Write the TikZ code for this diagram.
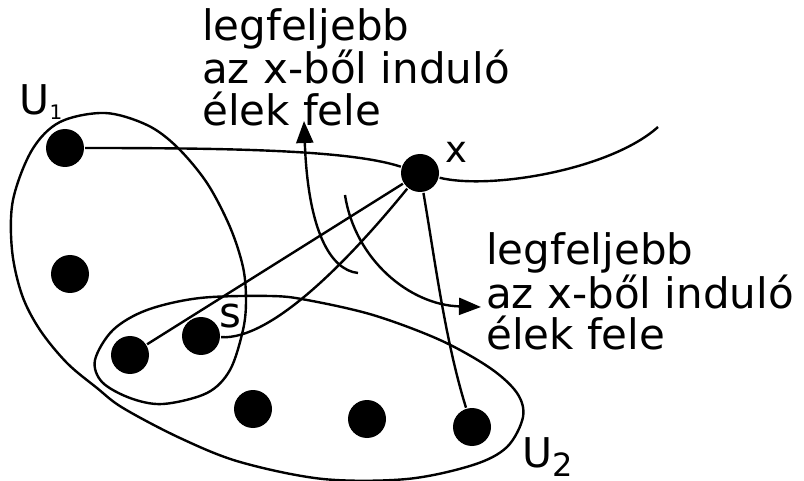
\documentclass[tikz,border=0pt]{standalone}
\usepackage{fontspec}
\setmainfont{DejaVu Sans}
\usetikzlibrary{arrows.meta}

\begin{document}
\begin{tikzpicture}[x=1pt, y=-1pt, line width=2.4pt,
  dot/.style={circle, fill=black, inner sep=0pt, minimum size=38pt},
  lbl/.style={inner sep=0pt, anchor=base west},
  note/.style={lbl, align=left, font=\fontsize{42}{42}\selectfont},
  tip/.style={-{Triangle[length=22pt,width=17pt]}}]
\useasboundingbox (0,0) rectangle (804,481);

% vertices
\node[dot] (x)  at (420,173) {};
\node[dot] (a1) at (65,148) {};
\node[dot] (a2) at (70,274) {};
\node[dot] (c)  at (130,355) {};
\node[dot] (s)  at (201,336) {};
\node[dot] (b1) at (253,409) {};
\node[dot] (b2) at (367,419) {};
\node[dot] (b3) at (472,427) {};

% the two sets U1 and U2 as one closed curve with an inner curl
\draw plot[smooth cycle, tension=0.55] coordinates {
  (270,296) (200,298) (147,310) (113,330) (95,360) (102,382) (130,398)
  (163,404) (207,393) (230,370) (243,330) (246,300) (243,267) (230,227)
  (207,183) (177,147) (147,125) (105,113) (60,122) (32,150) (13,200)
  (12,250) (22,295) (40,330) (67,363) (97,388) (123,408) (180,438)
  (240,462) (323,479) (407,479) (473,465) (507,447) (523,417) (517,393)
  (490,368) (440,340) (373,315) (307,300)};

% edges
\coordinate (tail) at (658,127);
\draw (a1) .. controls (230,148) and (350,150) .. (x)
           .. controls (490,190) and (610,170) .. (tail);
\draw (x) -- (c);
\draw (s) .. controls (270,340) and (345,265) .. (x);
\draw (x) .. controls (435,260) and (445,340) .. (b3);

% arrows
\coordinate (p1) at (358,273);
\coordinate (q1) at (304,121);
\draw[tip] (p1) .. controls (330,270) and (308,230) .. (q1);
\coordinate (p2) at (345,195);
\coordinate (q2) at (481,307);
\draw[tip] (p2) .. controls (355,260) and (410,305) .. (q2);

% labels (the base anchor sits on the last line)
\node[note] (t1) at (201,126) {legfeljebb\\az x-ből induló\\élek fele};
\node[note] (t2) at (485,350) {legfeljebb\\az x-ből induló\\élek fele};
\node[lbl, font=\fontsize{37}{37}\selectfont] (lx) at (444,163) {x};
\node[lbl, font=\fontsize{42}{42}\selectfont] (ls) at (218,327) {s};
\node[lbl, font=\fontsize{41}{41}\selectfont] (lu1) at (18.5,115)
  {U\raisebox{-5pt}[0pt][0pt]{\fontsize{20}{20}\selectfont 1}};
\node[lbl, font=\fontsize{41}{41}\selectfont] (lu2) at (521,467)
  {U\raisebox{-9pt}[0pt][0pt]{\fontsize{32}{32}\selectfont 2}};
\end{tikzpicture}
\end{document}
